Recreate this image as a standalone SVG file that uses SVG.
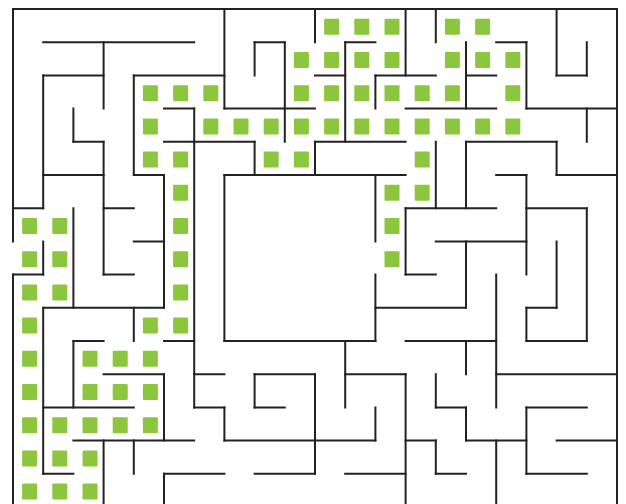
<svg xmlns="http://www.w3.org/2000/svg" xmlns:xlink="http://www.w3.org/1999/xlink" width="626" height="504" viewBox="0 0 626 504">
<style>
.wall{fill:none;stroke:#222;stroke-width:2;stroke-linecap:square}
.sq{fill:#8CC63F}
</style>
<defs>
<rect id="g" class="sq" width="15" height="16" rx="1"/>
</defs>
<rect width="626" height="504" fill="#fff"/>
<g id="walls" class="wall">
<path d="M13 9H617
M43.2 42.2H194.2 M254.6 42.2H284.8 M345.2 42.2H375.4 M496.2 42.2H526.4
M43.2 75.4H103.6 M133.8 75.4H224.4 M315 75.4H345.2 M375.4 75.4H435.8 M466 75.4H496.2 M556.6 75.4H586.8
M164 108.6H194.2 M224.4 108.6H315 M405.6 108.6H496.2 M526.4 108.6H617
M73.4 141.8H103.6 M164 141.8H254.6 M315 141.8H405.6 M466 141.8H556.6
M43.2 175H103.6 M133.8 175H164 M224.4 175H405.6 M496.2 175H526.4 M556.6 175H617
M13 208.2H43.2 M103.6 208.2H133.8 M405.6 208.2H496.2 M526.4 208.2H586.8
M133.8 241.4H164 M435.8 241.4H526.4
M13 274.6H43.2 M103.6 274.6H133.8 M405.6 274.6H435.8
M43.2 307.8H164 M375.4 307.8H466 M526.4 307.8H556.6
M73.4 341H103.6 M164 341H194.2 M224.4 341H375.4 M405.6 341H496.2 M526.4 341H586.8
M103.6 374.2H164 M194.2 374.2H224.4 M254.6 374.2H315 M345.2 374.2H405.6 M496.2 374.2H617
M43.2 407.4H133.8 M194.2 407.4H224.4 M254.6 407.4H284.8 M435.8 407.4H466 M526.4 407.4H586.8
M73.4 440.6H194.2 M224.4 440.6H375.4 M405.6 440.6H435.8 M466 440.6H526.4 M556.6 440.6H617
M43.2 473.8H73.4 M164 473.8H224.4 M254.6 473.8H315 M345.2 473.8H405.6 M435.8 473.8H466 M526.4 473.8H586.8"/>
<path d="M13 9V241.4 M13 274.6V507
M43.2 75.4V208.2 M43.2 241.4V274.6 M43.2 307.8V473.8
M73.4 108.6V141.8 M73.4 208.2V307.8 M73.4 341V407.4
M103.6 42.2V108.6 M103.6 141.8V274.6 M103.6 440.6V507
M133.8 75.4V175 M133.8 307.8V341 M133.8 440.6V473.8
M164 175V307.8 M164 374.2V440.6 M164 473.8V507
M194.2 108.6V407.4
M224.4 9V108.6 M224.4 175V341 M224.4 407.4V440.6
M254.6 42.2V75.4 M254.6 141.8V175 M254.6 374.2V407.4
M284.8 42.2V141.8
M315 9V42.2 M315 141.8V175 M315 374.2V473.8
M345.2 42.2V141.8 M345.2 341V407.4
M375.4 75.4V108.6 M375.4 175V241.4 M375.4 274.6V341 M375.4 407.4V440.6
M405.6 9V75.4 M405.6 208.2V274.6 M405.6 374.2V507
M435.8 9V42.2 M435.8 141.8V208.2 M435.8 374.2V407.4 M435.8 440.6V473.8
M466 42.2V108.6 M466 141.8V208.2 M466 241.4V307.8 M466 341V374.2 M466 407.4V440.6
M496.2 274.6V407.4 M496.2 440.6V507
M526.4 42.2V108.6 M526.4 175V274.6 M526.4 307.8V341 M526.4 407.4V473.8
M556.6 9V75.4 M556.6 141.8V175 M556.6 241.4V307.8
M586.8 42.2V75.4 M586.8 108.6V141.8 M586.8 208.2V341
M617 9V507"/>
</g>
<g id="path-squares">
<use xlink:href="#g" x="324.1" y="18.8"/><use xlink:href="#g" x="354.3" y="18.8"/><use xlink:href="#g" x="384.5" y="18.8"/><use xlink:href="#g" x="444.9" y="18.8"/><use xlink:href="#g" x="475.1" y="18.8"/>
<use xlink:href="#g" x="293.9" y="52"/><use xlink:href="#g" x="324.1" y="52"/><use xlink:href="#g" x="354.3" y="52"/><use xlink:href="#g" x="384.5" y="52"/><use xlink:href="#g" x="444.9" y="52"/><use xlink:href="#g" x="475.1" y="52"/><use xlink:href="#g" x="505.3" y="52"/>
<use xlink:href="#g" x="142.9" y="85.2"/><use xlink:href="#g" x="173.1" y="85.2"/><use xlink:href="#g" x="203.3" y="85.2"/><use xlink:href="#g" x="293.9" y="85.2"/><use xlink:href="#g" x="324.1" y="85.2"/><use xlink:href="#g" x="354.3" y="85.2"/><use xlink:href="#g" x="384.5" y="85.2"/><use xlink:href="#g" x="414.7" y="85.2"/><use xlink:href="#g" x="444.9" y="85.2"/><use xlink:href="#g" x="505.3" y="85.2"/>
<use xlink:href="#g" x="142.9" y="118.4"/><use xlink:href="#g" x="203.3" y="118.4"/><use xlink:href="#g" x="233.5" y="118.4"/><use xlink:href="#g" x="263.7" y="118.4"/><use xlink:href="#g" x="293.9" y="118.4"/><use xlink:href="#g" x="324.1" y="118.4"/><use xlink:href="#g" x="354.3" y="118.4"/><use xlink:href="#g" x="384.5" y="118.4"/><use xlink:href="#g" x="414.7" y="118.4"/><use xlink:href="#g" x="444.9" y="118.4"/><use xlink:href="#g" x="475.1" y="118.4"/><use xlink:href="#g" x="505.3" y="118.4"/>
<use xlink:href="#g" x="142.9" y="151.6"/><use xlink:href="#g" x="173.1" y="151.6"/><use xlink:href="#g" x="263.7" y="151.6"/><use xlink:href="#g" x="293.9" y="151.6"/><use xlink:href="#g" x="414.7" y="151.6"/>
<use xlink:href="#g" x="173.1" y="184.8"/><use xlink:href="#g" x="384.5" y="184.8"/><use xlink:href="#g" x="414.7" y="184.8"/>
<use xlink:href="#g" x="22.1" y="218"/><use xlink:href="#g" x="52.3" y="218"/><use xlink:href="#g" x="173.1" y="218"/><use xlink:href="#g" x="384.5" y="218"/>
<use xlink:href="#g" x="22.1" y="251.2"/><use xlink:href="#g" x="52.3" y="251.2"/><use xlink:href="#g" x="173.1" y="251.2"/><use xlink:href="#g" x="384.5" y="251.2"/>
<use xlink:href="#g" x="22.1" y="284.4"/><use xlink:href="#g" x="52.3" y="284.4"/><use xlink:href="#g" x="173.1" y="284.4"/>
<use xlink:href="#g" x="22.1" y="317.6"/><use xlink:href="#g" x="142.9" y="317.6"/><use xlink:href="#g" x="173.1" y="317.6"/>
<use xlink:href="#g" x="22.1" y="350.8"/><use xlink:href="#g" x="82.5" y="350.8"/><use xlink:href="#g" x="112.7" y="350.8"/><use xlink:href="#g" x="142.9" y="350.8"/>
<use xlink:href="#g" x="22.1" y="384"/><use xlink:href="#g" x="82.5" y="384"/><use xlink:href="#g" x="112.7" y="384"/><use xlink:href="#g" x="142.9" y="384"/>
<use xlink:href="#g" x="22.1" y="417.2"/><use xlink:href="#g" x="52.3" y="417.2"/><use xlink:href="#g" x="82.5" y="417.2"/><use xlink:href="#g" x="112.7" y="417.2"/><use xlink:href="#g" x="142.9" y="417.2"/>
<use xlink:href="#g" x="22.1" y="450.4"/><use xlink:href="#g" x="52.3" y="450.4"/><use xlink:href="#g" x="82.5" y="450.4"/>
<use xlink:href="#g" x="22.1" y="483.6"/><use xlink:href="#g" x="52.3" y="483.6"/><use xlink:href="#g" x="82.5" y="483.6"/>
</g>
</svg>
